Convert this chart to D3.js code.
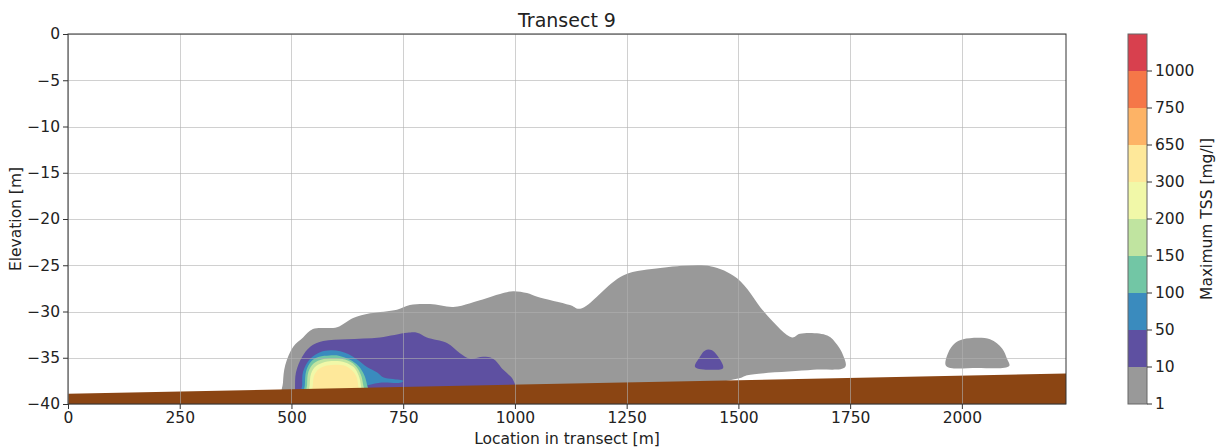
<!DOCTYPE html>
<html>
<head>
<meta charset="UTF-8">
<script src="https://cdn.jsdelivr.net/npm/d3@7/dist/d3.min.js"></script>
<style>
  body { margin: 0; background: #fff; }
  text { font-family: 'DejaVu Sans', sans-serif; fill: #222; }
</style>
</head>
<body>
<svg id="chart" width="1219" height="448"></svg>
<script>
// Tick values
const xTicks = [0, 250, 500, 750, 1000, 1250, 1500, 1750, 2000];
const yTicks = [0, -5, -10, -15, -20, -25, -30, -35, -40];

// Colour levels (mg/l) and their fills
const levels = [1, 10, 50, 100, 150, 200, 300, 650, 750, 1000, 1250];
const levelLabels = ['1', '10', '50', '100', '150', '200', '300', '650', '750', '1000'];
const bandColors = ['#999999', '#5e50a1', '#3a8bbe', '#72c6a5', '#c0e4a0', '#f1f8a8', '#fee89a', '#fdb366', '#f57748', '#d8404e'];

// Seabed line [location, elevation]
const seabed = [[0, -38.9], [2233, -36.7]];

// Contour outlines [location, elevation]
const contourGray = [[481, -39.5], [481, -37.7], [486, -35.8], [504, -33.8], [526, -32.8], [548, -31.9], [602, -31.7],
  [638, -30.7], [676, -30.2], [736, -29.8], [765, -29.3], [810, -29.2], [862, -29.5], [900, -29.1], [974, -28.0],
  [996, -27.8], [1027, -28.0], [1050, -28.4], [1123, -29.3], [1146, -29.7], [1242, -26.1], [1325, -25.3],
  [1363, -25.1], [1437, -25.1], [1497, -26.4], [1564, -30.4], [1620, -32.8], [1638, -32.4], [1699, -32.6],
  [1721, -33.6], [1734, -34.7], [1739, -36.0], [1667, -36.3], [1520, -36.9], [1504, -37.2], [1414, -37.9],
  [900, -39.5]];
const contourGraySmall = [[1965, -35.9], [1969, -34.5], [1985, -33.4], [2003, -33.0], [2063, -33.0], [2090, -34.0],
  [2101, -35.1], [2106, -35.9], [2034, -36.1]];
const contourPurple = [[508, -39.5], [508, -38.3], [510, -36.6], [524, -34.9], [542, -33.8], [571, -33.2], [624, -33.0],
  [698, -32.8], [759, -32.3], [781, -32.3], [803, -32.8], [848, -33.4], [877, -34.5], [900, -35.1], [929, -34.9],
  [951, -35.1], [974, -36.3], [996, -37.4], [1000, -38.6], [760, -39.5]];
const contourPurpleSmall = [[1403, -36.0], [1414, -34.9], [1423, -34.3], [1432, -34.1], [1441, -34.2], [1450, -34.6],
  [1466, -36.1], [1437, -36.3]];
const contourBlue = [[524, -39.0], [524, -37.9], [526, -36.5], [542, -35.1], [564, -34.4], [588, -34.2], [609, -34.3],
  [627, -34.6], [647, -35.2], [669, -36.0], [692, -36.6], [705, -37.1], [727, -37.3], [750, -37.5], [743, -37.7],
  [698, -37.7], [653, -38.2], [600, -39.0]];
const contourTeal = [[530, -39.0], [530, -37.9], [533, -36.4], [544, -35.4], [562, -34.9], [585, -34.75], [608, -34.8],
  [630, -35.2], [650, -35.9], [663, -36.9], [669, -37.9], [671, -38.7], [600, -39.0]];
const contourGreen = [[535, -39.0], [535, -37.9], [538, -36.5], [550, -35.6], [570, -35.15], [595, -35.05], [620, -35.2],
  [642, -35.8], [655, -36.8], [660, -37.8], [661, -38.7], [600, -39.0]];
const contourYellowGreen = [[541, -39.0], [541, -37.9], [544, -36.7], [555, -35.9], [575, -35.45], [598, -35.35],
  [620, -35.5], [639, -36.0], [650, -36.9], [655, -37.9], [655, -38.7], [600, -39.0]];
const contourYellow = [[548, -39.0], [548, -37.9], [551, -36.9], [562, -36.2], [580, -35.85], [598, -35.75],
  [618, -35.85], [634, -36.3], [645, -37.0], [649, -37.9], [649, -38.7], [600, -39.0]];

const contours = [
  { band: 0, pts: contourGray },
  { band: 0, pts: contourGraySmall },
  { band: 1, pts: contourPurple },
  { band: 1, pts: contourPurpleSmall },
  { band: 2, pts: contourBlue },
  { band: 3, pts: contourTeal },
  { band: 4, pts: contourGreen },
  { band: 5, pts: contourYellowGreen },
  { band: 6, pts: contourYellow }
];

const svg = d3.select('#chart');
const margin = { left: 68, right: 1066, top: 34, bottom: 404 };

const x = d3.scaleLinear().domain([0, 2233]).range([margin.left, margin.right]);
const y = d3.scaleLinear().domain([-40, 0]).range([margin.bottom, margin.top]);

const fmt = d => (d < 0 ? '\u2212' + Math.abs(d) : String(d));

svg.append('defs').append('clipPath').attr('id', 'plotClip')
  .append('rect')
  .attr('x', margin.left).attr('y', margin.top)
  .attr('width', margin.right - margin.left).attr('height', margin.bottom - margin.top);

const plot = svg.append('g').attr('clip-path', 'url(#plotClip)');

// Contour fills
const contourLine = d3.line()
  .x(d => x(d[0]))
  .y(d => y(d[1]))
  .curve(d3.curveCatmullRomClosed.alpha(0.5));

plot.selectAll('path.contour')
  .data(contours)
  .enter()
  .append('path')
  .attr('class', 'contour')
  .attr('d', d => contourLine(d.pts))
  .attr('fill', d => bandColors[d.band]);

// Seabed
const bedArea = d3.area()
  .x(d => x(d[0]))
  .y0(y(-40))
  .y1(d => y(d[1]));

plot.append('path')
  .datum(seabed)
  .attr('d', bedArea)
  .attr('fill', '#8b4513');

// Grid on top
const grid = svg.append('g').attr('stroke', '#b0b0b0').attr('stroke-opacity', 0.6).attr('stroke-width', 1);
grid.selectAll('line.gx')
  .data(xTicks)
  .enter()
  .append('line')
  .attr('x1', d => Math.round(x(d)) + 0.5).attr('x2', d => Math.round(x(d)) + 0.5)
  .attr('y1', margin.top).attr('y2', margin.bottom);
grid.selectAll('line.gy')
  .data(yTicks)
  .enter()
  .append('line')
  .attr('y1', d => Math.round(y(d)) + 0.5).attr('y2', d => Math.round(y(d)) + 0.5)
  .attr('x1', margin.left).attr('x2', margin.right);

// Axes
const xAxis = d3.axisBottom(x).tickValues(xTicks).tickFormat(fmt).tickSize(5).tickPadding(3);
const yAxis = d3.axisLeft(y).tickValues(yTicks).tickFormat(fmt).tickSize(5).tickPadding(3);

const gx = svg.append('g').attr('transform', `translate(0,${margin.bottom})`).call(xAxis);
const gy = svg.append('g').attr('transform', `translate(${margin.left},0)`).call(yAxis);
[gx, gy].forEach(g => {
  g.select('.domain').remove();
  g.selectAll('line').attr('stroke', '#333');
  g.selectAll('text').style('font-size', '15.5px').attr('fill', '#222');
});

// Frame
svg.append('rect')
  .attr('x', margin.left).attr('y', margin.top)
  .attr('width', margin.right - margin.left).attr('height', margin.bottom - margin.top)
  .attr('fill', 'none').attr('stroke', '#333').attr('stroke-width', 1);

// Titles
svg.append('text')
  .attr('x', (margin.left + margin.right) / 2).attr('y', 27)
  .attr('text-anchor', 'middle').style('font-size', '19px')
  .text('Transect 9');

svg.append('text')
  .attr('x', (margin.left + margin.right) / 2).attr('y', 444)
  .attr('text-anchor', 'middle').style('font-size', '15.5px')
  .text('Location in transect [m]');

svg.append('text')
  .attr('transform', `translate(21,${(margin.top + margin.bottom) / 2}) rotate(-90)`)
  .attr('text-anchor', 'middle').style('font-size', '15.5px')
  .text('Elevation [m]');

// Colourbar
const cb = { x: 1128, w: 19 };
const cbY = d3.scalePoint().domain(d3.range(levels.length)).range([margin.bottom, margin.top]);

svg.append('g').selectAll('rect')
  .data(bandColors)
  .enter()
  .append('rect')
  .attr('x', cb.x)
  .attr('width', cb.w)
  .attr('y', (d, i) => cbY(i + 1))
  .attr('height', (d, i) => cbY(i) - cbY(i + 1))
  .attr('fill', d => d);

svg.append('rect')
  .attr('x', cb.x).attr('y', margin.top)
  .attr('width', cb.w).attr('height', margin.bottom - margin.top)
  .attr('fill', 'none').attr('stroke', '#666').attr('stroke-width', 1);

const cbTicks = svg.append('g');
cbTicks.selectAll('line')
  .data(levelLabels)
  .enter()
  .append('line')
  .attr('x1', cb.x + cb.w).attr('x2', cb.x + cb.w + 5)
  .attr('y1', (d, i) => cbY(i)).attr('y2', (d, i) => cbY(i))
  .attr('stroke', '#333');
cbTicks.selectAll('text')
  .data(levelLabels)
  .enter()
  .append('text')
  .attr('x', cb.x + cb.w + 8)
  .attr('y', (d, i) => cbY(i))
  .attr('dy', '0.35em')
  .style('font-size', '15.5px')
  .text(d => d);

svg.append('text')
  .attr('transform', `translate(1212,${(margin.top + margin.bottom) / 2}) rotate(-90)`)
  .attr('text-anchor', 'middle').style('font-size', '15.5px')
  .text('Maximum TSS [mg/l]');
</script>
</body>
</html>
